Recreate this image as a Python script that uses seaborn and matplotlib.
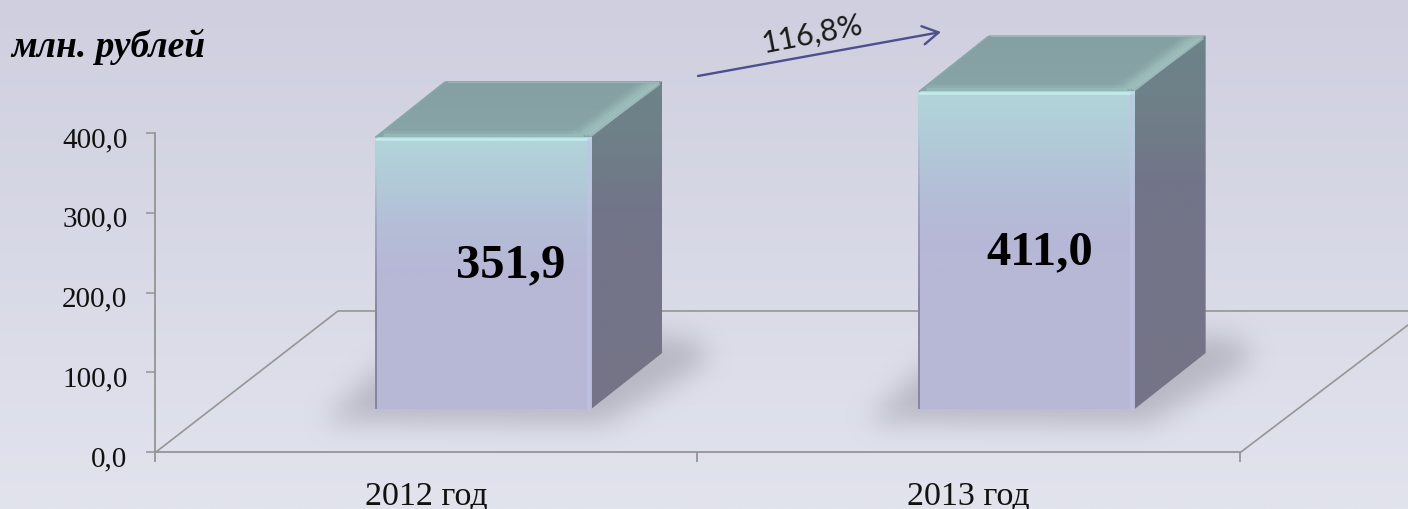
import numpy as np
import pandas as pd
import seaborn as sns
import matplotlib.pyplot as plt
from matplotlib.colors import LinearSegmentedColormap, to_rgb
from matplotlib.patches import Polygon
from matplotlib.path import Path
from matplotlib.ticker import FuncFormatter
from matplotlib.transforms import ScaledTranslation

# data
years = ['2012 год', '2013 год']
values = [351.9, 411.0]
value_labels = ['351,9', '411,0']
y_ticks = [0, 100, 200, 300, 400]
growth_label = '116,8%'
unit_label = 'млн. рублей'

W, H = 1408, 510
DEPTH_X, DEPTH_Y = 71, -56

sns.set_theme(style='white')
plt.rcParams['font.family'] = ['Liberation Serif', 'DejaVu Serif']


def px_axes(fig, x0, y0, x1, y1, zorder):
    # axes given by pixel box, y measured from top
    a = fig.add_axes([x0 / W, 1 - y1 / H, (x1 - x0) / W, (y1 - y0) / H], zorder=zorder)
    a.patch.set_alpha(0)
    return a


def vgrad(a, colors, box, clip=None, zorder=2):
    x0, y0, x1, y1 = box
    cmap = LinearSegmentedColormap.from_list('g', colors)
    im = a.imshow(np.linspace(0, 1, 256)[:, None], cmap=cmap, aspect='auto',
                  extent=(x0, x1, y1, y0), interpolation='bilinear', zorder=zorder)
    if clip is not None:
        a.add_patch(clip)
        clip.set_visible(False)
        im.set_clip_path(clip)


def blur(arr, sigma):
    k = np.exp(-0.5 * (np.arange(-3 * sigma, 3 * sigma + 1) / sigma) ** 2)
    k = k / k.sum()
    arr = np.apply_along_axis(lambda r: np.convolve(r, k, mode='same'), 0, arr)
    return np.apply_along_axis(lambda r: np.convolve(r, k, mode='same'), 1, arr)


fig = plt.figure(figsize=(W / 100, H / 100), dpi=100)

# background layer, pixel coordinates
bg = px_axes(fig, 0, 0, W, H, 0)
bg.axis('off')
vgrad(bg, ['#cfcfdf', '#e1e3ed'], (0, 0, W, H), zorder=1)

# chart axis
axis_c = '#949494'
ax = px_axes(fig, 154.5, 134, 1240, 453, 1)
ax.set_xlim(-0.5, 1.5)
ax.set_ylim(0, 400)
ax.set_yticks(y_ticks)
ax.yaxis.set_major_formatter(FuncFormatter(lambda v, p: f'{v:.1f}'.replace('.', ',')))
ax.set_xticks([-0.5, 0.5, 1.5], labels=['', '', ''])
ax.set_xticks([0, 1], labels=years, minor=True)
for s in ['top', 'right']:
    ax.spines[s].set_visible(False)
for s in ['left', 'bottom']:
    ax.spines[s].set_color(axis_c)
    ax.spines[s].set_linewidth(1.3)
ax.tick_params(axis='y', which='major', left=True, length=6.5, width=1.1, color=axis_c,
               labelsize=21, pad=13, labelcolor='#111111')
ax.tick_params(axis='x', which='major', bottom=True, length=7, width=1.3, color=axis_c)
ax.tick_params(axis='x', which='minor', bottom=False, length=0, labelsize=24.5, pad=20,
               labelcolor='#111111')
for lab in ax.get_yticklabels():
    lab.set_transform(lab.get_transform() + ScaledTranslation(0, -3 / 100, fig.dpi_scale_trans))

# bars, on their own axes because the front plane sits off the axis plane
SCALE = 0.7726  # px per unit
ax_bars = px_axes(fig, 211.25, 0, 1298.25, 410, 3)
df = pd.DataFrame({'year': years, 'value': values})
sns.barplot(data=df, x='year', y='value', ax=ax_bars, width=0.398, color='#b7b7d6',
            saturation=1, linewidth=0)
ax_bars.set_xlim(-0.5, 1.5)
ax_bars.set_ylim(0, 410 / SCALE)
ax_bars.axis('off')

# floor
floor_c = '#969696'
bg.plot([156, 338, W], [453, 312, 312], color=floor_c, lw=1.2, zorder=1.2)
bg.plot([1241, W], [453, 326], color=floor_c, lw=1.2, zorder=1.2)

# shadows and depth faces, from the bars' corners
yy, xx = np.mgrid[0:H, 0:W]
pts = np.c_[xx.ravel(), yy.ravel()]
shadow = np.zeros((H, W))
fig.canvas.draw()
top = px_axes(fig, 0, 0, W, H, 4)
top.axis('off')
for p in ax_bars.patches:
    (xa, yb), (xb, yt) = ax_bars.transData.transform([(p.get_x(), 0), (p.get_x() + p.get_width(), p.get_height())])
    yb, yt = H - yb, H - yt
    poly = Path([(xa - 52, yb + 12), (xb + 12, yb + 15), (xb + 116, yb - 48), (xb + 106, yb - 70),
                 (xb + 60, yb - 74), (xa + 5, yb - 42)])
    shadow = np.maximum(shadow, poly.contains_points(pts).reshape(H, W).astype(float))

    # top face
    tf = Polygon([(xa, yt), (xb, yt), (xb + DEPTH_X, yt + DEPTH_Y), (xa + DEPTH_X, yt + DEPTH_Y)],
                 closed=True, transform=bg.transData)
    vgrad(bg, ['#84a0a2', '#86a2a4', '#87a4a6'], (xa, yt + DEPTH_Y, xb + DEPTH_X, yt), tf)
    # side face
    sf = Polygon([(xb, yt), (xb + DEPTH_X, yt + DEPTH_Y), (xb + DEPTH_X, yb + DEPTH_Y), (xb, yb)],
                 closed=True, transform=bg.transData)
    vgrad(bg, ['#6d8488', '#6f7f88', '#727488', '#747488', '#747488', '#757487'],
          (xb, yt + DEPTH_Y, xb + DEPTH_X, yb), sf)
    # front face
    im_colors = ['#b1d5da', '#b2cad8', '#b4bdd7', '#b7b7d6', '#b7b7d6', '#b7b7d6', '#b7b7d6']
    cmap = LinearSegmentedColormap.from_list('f', im_colors)
    im = ax_bars.imshow(np.linspace(0, 1, 256)[:, None], cmap=cmap, aspect='auto', zorder=3,
                        extent=(p.get_x(), p.get_x() + p.get_width(), 0, p.get_height()),
                        origin='upper')
    im.set_clip_path(p)
    # bevels
    top.plot([xa + 1, xb - 2], [yt + 1.5, yt + 1.5], color='#c6ebec', lw=1.8, solid_capstyle='round')
    ys = np.linspace(yt + 3, yb, 40)
    for i in range(39):
        frac = i / 38
        top.plot([xa + 1, xa + 1], ys[i:i + 2], color='#7f8099', lw=1.4,
                 alpha=min(0.9, max(0, frac * 1.6 - 0.15)), solid_capstyle='butt')
    top.plot([xb - 2.5, xb - 2.5], [yt + 3, yb], color='#c0c4e4', lw=2.6, alpha=0.65)
    # top face bevels
    for k, al in zip([2, 6, 10, 14, 18, 22], [0.7, 0.6, 0.5, 0.35, 0.2, 0.1]):
        top.plot([xb - k, xb + DEPTH_X - k - 1], [yt - 2, yt + DEPTH_Y + 2], color='#a3c4c2', lw=3, alpha=al,
                 solid_capstyle='butt')
    top.plot([xa + 8, xb - 8], [yt - 2.5, yt - 2.5], color='#9cc0c0', lw=2.4, alpha=0.7, solid_capstyle='butt')
    top.plot([xa + 8, xb - 14], [yt - 5.5, yt - 5.5], color='#9cc0c0', lw=2.4, alpha=0.3, solid_capstyle='butt')
    top.plot([xa + 1, xa + DEPTH_X - 1], [yt, yt + DEPTH_Y + 1], color='#86a8a8', lw=1.2)
    top.plot([xa + DEPTH_X + 2, xb + DEPTH_X - 4], [yt + DEPTH_Y + 0.8, yt + DEPTH_Y + 0.8], color='#9fb4b6', lw=0.8)

ax_bars.set_xlim(-0.5, 1.5)
ax_bars.set_ylim(0, 410 / SCALE)

shadow = blur(shadow, 13) * 0.46
rgba = np.zeros((H, W, 4))
rgba[..., :3] = to_rgb('#8c8c98')
rgba[..., 3] = shadow
bg.imshow(rgba, extent=(0, W, H, 0), aspect='auto', zorder=1.5, interpolation='bilinear')

# growth arrow
bg.annotate('', xy=(941, 33), xytext=(698, 77),
            arrowprops=dict(arrowstyle='->,head_length=0.95,head_width=0.55', color='#4d4f8f', lw=1.7,
                            shrinkA=0, shrinkB=0), zorder=6)
bg.set_xlim(0, W)
bg.set_ylim(H, 0)
top.set_xlim(0, W)
top.set_ylim(H, 0)

# text
fig.text(812 / W, 1 - 34 / H, growth_label, family=['Lato', 'DejaVu Sans'], fontsize=22, rotation=11,
         ha='center', va='center', color='#1a1a1a', rotation_mode='anchor', zorder=10)
fig.text(11 / W, 1 - 47 / H, unit_label, fontsize=27, fontweight='bold', fontstyle='italic',
         ha='left', va='center', color='black', zorder=10)
fig.text(510.5 / W, 1 - 265 / H, value_labels[0], fontsize=35, fontweight='bold',
         ha='center', va='center', color='black', zorder=10)
fig.text(1039.5 / W, 1 - 252 / H, value_labels[1], fontsize=35, fontweight='bold',
         ha='center', va='center', color='black', zorder=10)

fig.savefig('out.png', dpi=100)
